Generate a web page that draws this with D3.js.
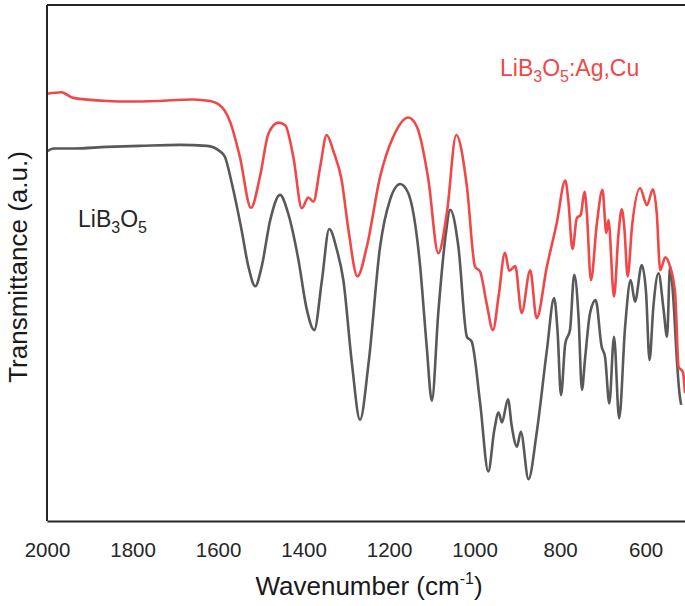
<!DOCTYPE html>
<html>
<head>
<meta charset="utf-8">
<script src="https://cdn.jsdelivr.net/npm/d3@7"></script>
<style>
  body { margin: 0; background: #fff; }
  svg { font-family: "Liberation Sans", Arial, sans-serif; }
</style>
</head>
<body>
<div id="chart"></div>
<script>
// wavenumber (cm-1) and transmittance (a.u.)
const dopedWn = [2000, 1966, 1939, 1860, 1806, 1743, 1659, 1619, 1591, 1572, 1549, 1523, 1502, 1482, 1459, 1443, 1424, 1404, 1389, 1377, 1361, 1346, 1330, 1311, 1295, 1274, 1252, 1221, 1190, 1155, 1135, 1108, 1085, 1065, 1043, 1018, 999, 987, 972, 957, 944, 929, 919, 905, 890, 870, 855, 831, 808, 788, 781, 771, 761, 752, 743, 738, 728, 714, 701, 692, 687, 674, 664, 656, 650, 642, 632, 613, 597, 583, 574, 566, 554, 543, 531, 523, 513, 508];
const dopedT = [82.8, 83.1, 82.0, 81.4, 81.3, 81.4, 81.7, 81.4, 80.2, 77.4, 70.6, 60.7, 66.7, 75.1, 77.2, 76.7, 70.6, 60.6, 62.7, 61.9, 68.7, 74.8, 71.6, 66.1, 56.4, 47.4, 53.2, 66.7, 74.5, 78.2, 76.4, 66.1, 51.9, 59.6, 74.8, 64.8, 49.3, 48.3, 42.2, 37.0, 43.5, 52.0, 48.5, 49.4, 40.3, 48.6, 39.3, 49.3, 57.7, 66.0, 62.2, 52.7, 58.7, 59.3, 63.8, 60.3, 46.7, 57.7, 64.2, 55.8, 58.3, 43.5, 55.1, 60.4, 57.0, 47.4, 57.0, 64.5, 61.2, 64.3, 59.6, 48.6, 51.1, 49.3, 44.1, 29.9, 28.9, 24.8];

const pureWn = [2000, 1985, 1939, 1860, 1783, 1689, 1626, 1595, 1584, 1568, 1545, 1529, 1513, 1498, 1478, 1455, 1436, 1412, 1393, 1375, 1357, 1340, 1322, 1307, 1287, 1268, 1248, 1221, 1198, 1174, 1155, 1128, 1112, 1100, 1085, 1069, 1057, 1038, 1018, 1007, 987, 968, 954, 944, 936, 922, 913, 901, 892, 874, 855, 831, 814, 806, 798, 788, 777, 767, 757, 749, 742, 730, 717, 703, 695, 685, 674, 662, 648, 635, 625, 609, 599, 591, 582, 570, 558, 550, 543, 535, 527, 521, 517];
const pureT = [71.6, 72.2, 72.2, 72.5, 72.7, 72.9, 72.7, 71.6, 70.6, 65.5, 56.4, 49.3, 45.5, 49.3, 58.3, 63.2, 59.6, 50.6, 41.2, 37.0, 46.7, 56.6, 52.5, 46.7, 30.6, 19.6, 30.6, 53.2, 62.2, 65.3, 63.5, 49.9, 33.8, 23.3, 40.3, 54.5, 60.3, 53.2, 35.7, 34.8, 22.8, 9.6, 17.6, 21.0, 19.1, 23.6, 18.3, 14.4, 17.3, 8.1, 17.0, 33.1, 43.2, 36.7, 24.4, 34.4, 37.0, 47.7, 39.6, 25.4, 31.2, 40.3, 42.8, 33.8, 31.8, 22.8, 35.7, 19.9, 37.7, 46.7, 42.5, 49.6, 44.1, 31.2, 41.5, 48.0, 40.9, 35.7, 49.3, 42.8, 31.2, 24.8, 22.5];

const xTicks = [2000, 1800, 1600, 1400, 1200, 1000, 800, 600];

const width = 685;
const height = 606;
const margin = { top: 5, right: 0, bottom: 85, left: 47 };

const svg = d3
  .select("#chart")
  .append("svg")
  .attr("width", width)
  .attr("height", height);

const x = d3
  .scaleLinear()
  .domain([2000, 508])
  .range([margin.left, width - margin.right]);

const y = d3
  .scaleLinear()
  .domain([0, 100])
  .range([height - margin.bottom, margin.top]);

const line = d3
  .line()
  .x((d) => x(d[0]))
  .y((d) => y(d[1]))
  .curve(d3.curveMonotoneX);

svg
  .append("defs")
  .append("clipPath")
  .attr("id", "clip")
  .append("rect")
  .attr("x", margin.left)
  .attr("y", margin.top)
  .attr("width", width - margin.left)
  .attr("height", height - margin.bottom - margin.top);

const plot = svg.append("g").attr("clip-path", "url(#clip)");

plot
  .append("path")
  .datum(pureWn.map((w, i) => [w, pureT[i]]))
  .attr("fill", "none")
  .attr("stroke", "#595959")
  .attr("stroke-width", 2.6)
  .attr("stroke-linejoin", "round")
  .attr("d", line);

plot
  .append("path")
  .datum(dopedWn.map((w, i) => [w, dopedT[i]]))
  .attr("fill", "none")
  .attr("stroke", "#f04848")
  .attr("stroke-width", 2.6)
  .attr("stroke-linejoin", "round")
  .attr("d", line);

// frame: left, bottom, top
const xAxis = svg
  .append("g")
  .attr("transform", `translate(0,${height - margin.bottom})`)
  .call(d3.axisBottom(x).tickValues(xTicks).tickSize(0).tickPadding(21).tickFormat(d3.format("d")));
xAxis.select(".domain").attr("stroke", "#262626").attr("stroke-width", 2);
xAxis
  .selectAll("text")
  .attr("font-size", 20.5)
  .attr("fill", "#262626")
  .attr("font-family", "Liberation Sans, Arial, sans-serif");

svg
  .append("line")
  .attr("x1", margin.left)
  .attr("x2", margin.left)
  .attr("y1", margin.top)
  .attr("y2", height - margin.bottom)
  .attr("stroke", "#262626")
  .attr("stroke-width", 2);

svg
  .append("line")
  .attr("x1", margin.left)
  .attr("x2", width)
  .attr("y1", margin.top)
  .attr("y2", margin.top)
  .attr("stroke", "#262626")
  .attr("stroke-width", 2);

// axis titles
const xt = svg
  .append("text")
  .attr("x", 369)
  .attr("y", 595)
  .attr("text-anchor", "middle")
  .attr("font-size", 26)
  .attr("fill", "#1a1a1a");
xt.append("tspan").text("Wavenumber (cm");
xt.append("tspan").attr("font-size", 16).attr("dy", -11).text("-1");
xt.append("tspan").attr("dy", 11).text(")");

svg
  .append("text")
  .attr("transform", "rotate(-90)")
  .attr("x", -267)
  .attr("y", 27)
  .attr("text-anchor", "middle")
  .attr("font-size", 26)
  .attr("fill", "#1a1a1a")
  .text("Transmittance (a.u.)");

// series labels
function chemLabel(tx, ty, color, suffix) {
  const t = svg
    .append("text")
    .attr("x", tx)
    .attr("y", ty)
    .attr("font-size", 23)
    .attr("fill", color);
  t.append("tspan").text("LiB");
  t.append("tspan").attr("font-size", 16).attr("dy", 6).text("3");
  t.append("tspan").attr("dy", -6).text("O");
  t.append("tspan").attr("font-size", 16).attr("dy", 6).text("5");
  if (suffix) t.append("tspan").attr("dy", -6).text(suffix);
}

chemLabel(500, 76, "#f04848", ":Ag,Cu");
chemLabel(78, 227, "#262626", "");
</script>
</body>
</html>
